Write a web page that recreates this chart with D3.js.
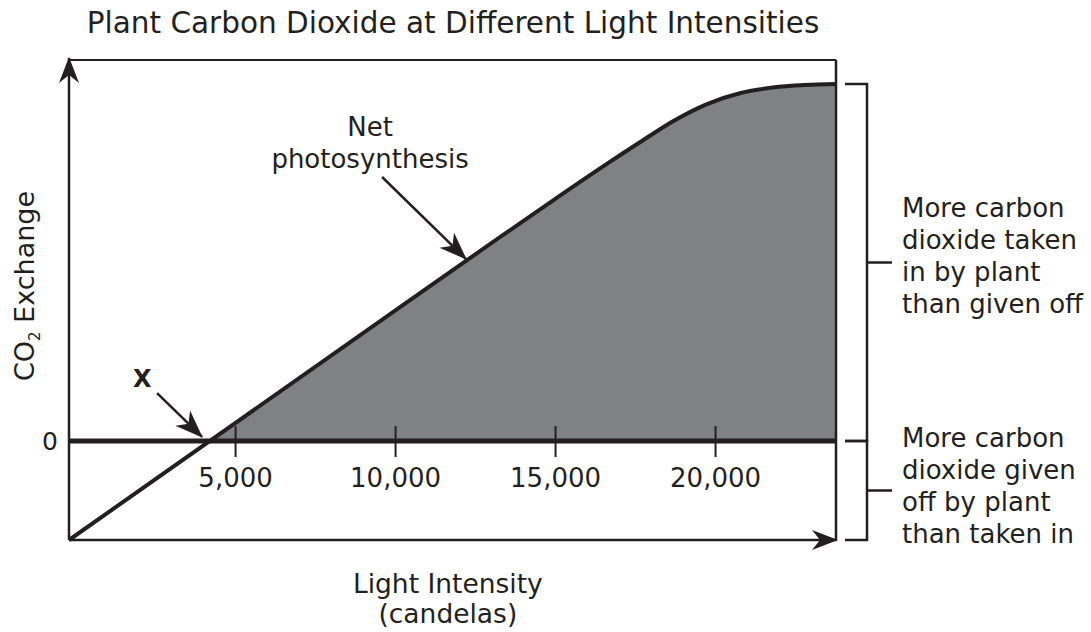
<!DOCTYPE html>
<html><head><meta charset="utf-8">
<script src="https://cdn.jsdelivr.net/npm/d3@7"></script>
<style>
body{margin:0;background:#fff;}
text{font-family:"DejaVu Sans",Verdana,sans-serif;fill:#231f20;}
</style></head>
<body><svg id="c" width="1091" height="632"></svg>
<script>
// ---- data ----
const lightIntensity = [-190, 10000, 15000, 16500, 17700, 18700, 19750, 20800, 21800, 22800, 23780];
const co2Exchange    = [-1.0, 1.318, 2.445, 2.775, 3.029, 3.234, 3.405, 3.517, 3.572, 3.597, 3.607];
const xTicks = [5000, 10000, 15000, 20000];
const xTickLabels = ["5,000", "10,000", "15,000", "20,000"];
const title = "Plant Carbon Dioxide at Different Light Intensities";
const upperNote = ["More carbon", "dioxide taken", "in by plant", "than given off"];
const lowerNote = ["More carbon", "dioxide given", "off by plant", "than taken in"];

const ink = "#231f20", fillGray = "#808184";
const svg = d3.select("#c");
const x = d3.scaleLinear().domain([-190, 23780]).range([69, 836]);
const y = d3.scaleLinear().domain([-1, 3.85]).range([540, 60]);
const pts = lightIntensity.map((v,i)=>({x:v,y:co2Exchange[i]}));
const x0 = x.domain()[0], x1 = x.domain()[1];
const yTop = y.domain()[1], yBot = y.domain()[0];

// arrowhead markers
const defs = svg.append("defs");
function marker(id, L, W, notch){
  defs.append("marker").attr("id",id).attr("viewBox",`${-L-2} ${-W-1} ${L+4} ${2*W+2}`)
    .attr("refX",0).attr("refY",0).attr("markerWidth",L+4).attr("markerHeight",2*W+2)
    .attr("markerUnits","userSpaceOnUse").attr("orient","auto")
    .append("path").attr("d",`M1,0 L${-L},${-W} L${-notch},0 L${-L},${W} Z`).attr("fill",ink);
}
marker("ah", 25, 10, 17);
marker("ah2", 27, 10.5, 19);
defs.append("clipPath").attr("id","above").append("rect")
  .attr("x",x(x0)).attr("y",y(yTop)).attr("width",x(x1)-x(x0)).attr("height",y(0)-y(yTop));

// filled area above zero
const curve = d3.curveMonotoneX;
svg.append("path").datum(pts).attr("clip-path","url(#above)")
  .attr("d",d3.area().x(d=>x(d.x)).y0(y(0)).y1(d=>y(d.y)).curve(curve))
  .attr("fill",fillGray);

// frame: top and right borders
svg.append("line").attr("x1",x(x0)).attr("x2",x(x1)).attr("y1",y(yTop)).attr("y2",y(yTop))
  .attr("stroke",ink).attr("stroke-width",2);
svg.append("line").attr("x1",x(x1)).attr("x2",x(x1)).attr("y1",y(yTop)).attr("y2",y(yBot))
  .attr("stroke",ink).attr("stroke-width",2.5);

// axes with arrows
svg.append("line").attr("x1",x(x0)).attr("x2",x(x0)).attr("y1",y(yBot)).attr("y2",y(yTop)-2)
  .attr("stroke",ink).attr("stroke-width",2.5).attr("marker-end","url(#ah)");
svg.append("line").attr("x1",x(x0)).attr("x2",x(x1)+1).attr("y1",y(yBot)).attr("y2",y(yBot))
  .attr("stroke",ink).attr("stroke-width",2.5).attr("marker-end","url(#ah)");

// zero line
svg.append("line").attr("x1",x(x0)).attr("x2",x(x1)).attr("y1",y(0)).attr("y2",y(0))
  .attr("stroke",ink).attr("stroke-width",5);

// ticks
const ax = svg.append("g").attr("transform",`translate(0,${y(0)})`)
  .call(d3.axisBottom(x).tickValues(xTicks).tickFormat((d,i)=>xTickLabels[i]).tickSize(16).tickPadding(12));
ax.select(".domain").remove();
ax.selectAll(".tick line").attr("y1",-15).attr("stroke",ink).attr("stroke-width",2);
ax.selectAll(".tick text").attr("font-size",26).attr("font-family","DejaVu Sans, Verdana, sans-serif").attr("fill",ink);

// net photosynthesis line
svg.append("path").datum(pts)
  .attr("d",d3.line().x(d=>x(d.x)).y(d=>y(d.y)).curve(curve))
  .attr("fill","none").attr("stroke",ink).attr("stroke-width",4).attr("stroke-linejoin","round");

// title
svg.append("text").attr("x",453).attr("y",33).attr("text-anchor","middle").attr("font-size",29.5).text(title);

// y label
const yl = svg.append("text").attr("transform",`translate(34,${y(1.566)}) rotate(-90)`)
  .attr("text-anchor","middle").attr("font-size",27);
yl.append("tspan").text("CO");
yl.append("tspan").attr("font-size",15).attr("dy",6).text("2");
yl.append("tspan").attr("dy",-6).text(" Exchange");
svg.append("text").attr("x",50).attr("y",y(0)+9).attr("text-anchor","middle").attr("font-size",25).text("0");

// x label
svg.append("text").attr("x",x(11650)).attr("y",593).attr("text-anchor","middle").attr("font-size",26.5).text("Light Intensity");
svg.append("text").attr("x",x(11650)).attr("y",623).attr("text-anchor","middle").attr("font-size",26.5).text("(candelas)");

// annotation X
svg.append("text").attr("x",x(2100)).attr("y",y(0.55)).attr("text-anchor","middle")
  .attr("font-size",24).attr("font-weight","bold").text("X");
svg.append("line").attr("x1",x(2562)).attr("y1",y(0.485)).attr("x2",x(3969)).attr("y2",y(0.041))
  .attr("stroke",ink).attr("stroke-width",2.5).attr("marker-end","url(#ah2)");

// annotation net photosynthesis
svg.append("text").attr("x",x(9219)).attr("y",y(3.08)).attr("text-anchor","middle").attr("font-size",26).text("Net");
svg.append("text").attr("x",x(9219)).attr("y",y(2.757)).attr("text-anchor","middle").attr("font-size",26).text("photosynthesis");
svg.append("line").attr("x1",x(9594)).attr("y1",y(2.668)).attr("x2",x(12219)).attr("y2",y(1.839))
  .attr("stroke",ink).attr("stroke-width",2.5).attr("marker-end","url(#ah2)");

// brackets
const plateau = co2Exchange[co2Exchange.length-1];
const bx = 867, bl = 845, bm = 892;
function bracket(yA, yB){
  const a = y(yA), b = y(yB), m = (a+b)/2;
  svg.append("path").attr("d",`M${bl},${a} H${bx} V${b} H${bl} M${bx},${m} H${bm}`)
    .attr("fill","none").attr("stroke",ink).attr("stroke-width",2.5);
  return m;
}
bracket(plateau, 0);
bracket(0, yBot);
function note(lines, y0){
  lines.forEach((t,i)=>svg.append("text").attr("x",902).attr("y",y0+i*32).attr("font-size",26).text(t));
}
note(upperNote, 217);
note(lowerNote, 447);
</script></body></html>
